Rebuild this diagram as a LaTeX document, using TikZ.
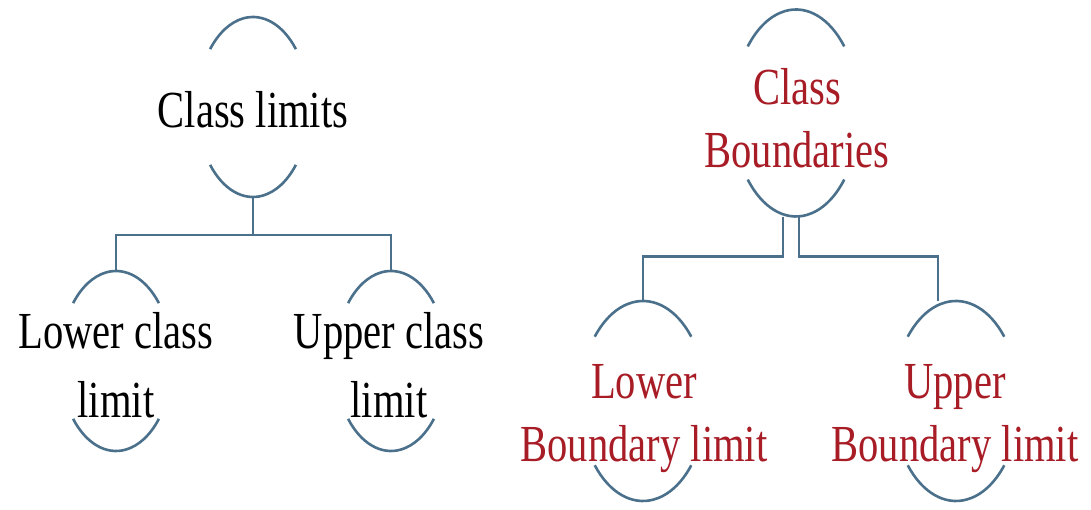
\documentclass[tikz,border=0pt]{standalone}
\usepackage{fontspec}
\setmainfont{Liberation Serif}[FakeStretch=0.78]
\usetikzlibrary{shapes.geometric}
\definecolor{edgeblue}{RGB}{74,112,139}
\definecolor{darkred}{RGB}{168,28,38}
% top and bottom caps of a bubble: node, x radius, y radius
\newcommand{\caps}[3]{%
  \draw[edge] ([shift={(40:#2 and #3)}]#1.center) arc[start angle=40, end angle=140, x radius=#2, y radius=#3];
  \draw[edge] ([shift={(220:#2 and #3)}]#1.center) arc[start angle=220, end angle=320, x radius=#2, y radius=#3];}
\begin{document}
\begin{tikzpicture}[x=1pt, y=1pt,
    edge/.style={edgeblue, line width=2.6pt},
    bubble/.style={ellipse, inner sep=0pt, minimum width=112pt, minimum height=180pt},
    bigbubble/.style={ellipse, inner sep=0pt, minimum width=126pt, minimum height=200pt},
    label/.style={font=\fontsize{52}{63}\selectfont, align=center, inner sep=0pt},
    redlabel/.style={label, text=darkred}]
  \useasboundingbox (0,0) rectangle (1091,510);
  \node[bubble] (limits) at (253,403) {};
  \node[bubble] (lcl) at (116,149) {};
  \node[bubble] (ucl) at (391,149) {};
  \node[bigbubble, minimum height=207pt] (bnd) at (796,397) {};
  \node[bigbubble] (lbl) at (643,109) {};
  \node[bigbubble] (ubl) at (956,109) {};
  \caps{limits}{56pt}{90pt} \caps{lcl}{56pt}{90pt} \caps{ucl}{56pt}{90pt}
  \caps{bnd}{63pt}{103.5pt} \caps{lbl}{63pt}{100pt} \caps{ubl}{63pt}{100pt}
  \node[label] (limits-t) at (253,400) {Class limits};
  \node[label] (lcl-t) at (116,145) {Lower class\\[6pt]limit};
  \node[label] (ucl-t) at (389,145) {Upper class\\[6pt]limit};
  \node[redlabel] (bnd-t) at (797,392) {Class\\Boundaries};
  \node[redlabel] (lbl-t) at (644,91) {Lower\\Boundary limit};
  \node[redlabel] (ubl-t) at (955,91) {Upper\\Boundary limit};
  \draw[edge] (limits.south) -- ++(0,-38pt) -| (lcl.north);
  \draw[edge] (limits.south) -- ++(0,-38pt) -| (ucl.north);
  \draw[edge] ([xshift=-13pt]bnd.south) -- ++(0,-40pt) -| (lbl.north);
  \draw[edge] ([xshift=3pt]bnd.south) -- ++(0,-40pt) -| ([xshift=-18pt]ubl.north);
\end{tikzpicture}
\end{document}
